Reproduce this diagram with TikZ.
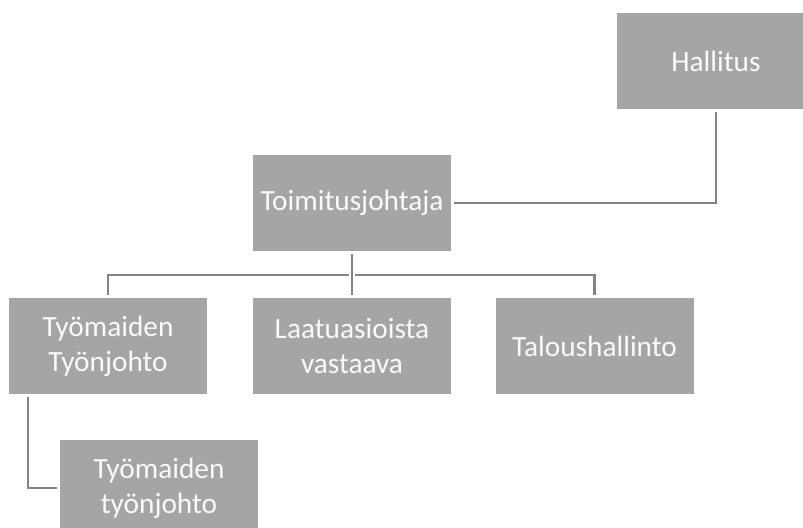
\documentclass[tikz,border=0pt]{standalone}
\usepackage{fontspec}
\setmainfont{Carlito}
\begin{document}
\begin{tikzpicture}[x=0.75pt,y=-0.75pt,
  box/.style={fill=boxgray, text=white!96!gray, align=center, inner sep=0pt,
    minimum height=72pt, minimum width=148.5pt, font=\fontsize{22}{26.5}\selectfont},
  link/.style={draw=linegray, line width=1.6pt, shorten >=2pt, shorten <=2pt}]
\definecolor{boxgray}{HTML}{A5A5A5}
\definecolor{linegray}{HTML}{848484}
\useasboundingbox (0,0) rectangle (803,528);
\clip (0,0) rectangle (803,528);
\node[box] (hal) at (716,61) {Hallitus};
\node[box] (toim) at (352,203) {Toimitusjohtaja};
\node[box] (tyo) at (108,346) {Työmaiden\\Työnjohto};
\node[box] (laa) at (352,346) {Laatuasioista\\vastaava};
\node[box] (tal) at (594.5,346) {Taloushallinto};
\node[box] (tyo2) at (159,488) {Työmaiden\\työnjohto};
\coordinate (bus) at (352,275);
\draw[link] (toim.east) -| (hal.south);
\draw[link, shorten >=0pt] (toim.south) -- (bus);
\draw[link] (bus) -| (tyo.north);
\draw[link, shorten <=0pt] (bus) -- (laa.north);
\draw[link] (bus) -| (tal.north);
\draw[link] ([xshift=-60pt]tyo.south) |- (tyo2.west);
\end{tikzpicture}
\end{document}
